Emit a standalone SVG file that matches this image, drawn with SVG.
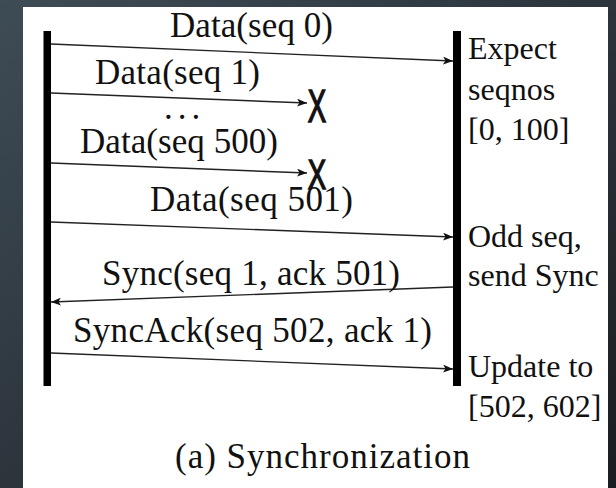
<svg xmlns="http://www.w3.org/2000/svg" width="616" height="488" viewBox="0 0 616 488">
<defs>
<linearGradient id="bg" x1="0" y1="0" x2="1" y2="1">
<stop offset="0" stop-color="#3e4c56"/>
<stop offset="1" stop-color="#1a1d22"/>
</linearGradient>
<marker id="ah" viewBox="0 0 10 8" refX="10" refY="4" markerWidth="10" markerHeight="8" markerUnits="userSpaceOnUse" orient="auto">
<path d="M0,0 L10,4 L0,8 L2.5,4 Z" fill="#111"/>
</marker>
<style>
.t{font-family:'Liberation Serif','DejaVu Serif',serif;font-size:35px;fill:#111}
.r{font-family:'Liberation Serif','DejaVu Serif',serif;font-size:32px;fill:#111}
.x{font-family:'Liberation Sans','DejaVu Sans',sans-serif;font-size:46px;fill:#111;stroke:#111;stroke-width:1.6;text-anchor:middle}
.msg{stroke:#222;stroke-width:1.4;fill:none;marker-end:url(#ah)}
.life{fill:#000}
</style>
</defs>
<rect x="0" y="0" width="616" height="488" fill="url(#bg)"/>
<rect x="23" y="7" width="585" height="481" fill="#fff"/>
<g id="sender"><rect class="life" x="43.5" y="31" width="7.5" height="355"/></g>
<g id="receiver"><rect class="life" x="453" y="31" width="8" height="355"/></g>
<g id="connectors">
<line class="msg" x1="51" y1="44" x2="453" y2="61"/>
<line class="msg" x1="51" y1="93" x2="307" y2="103"/>
<line class="msg" x1="51" y1="163" x2="307" y2="173"/>
<line class="msg" x1="51" y1="222" x2="453" y2="237"/>
<line class="msg" x1="453" y1="287" x2="51" y2="302"/>
<line class="msg" x1="51" y1="353" x2="453" y2="369"/>
</g>
<g id="labels">
<text class="t" x="170" y="37" textLength="163">Data(seq 0)</text>
<text class="t" x="95" y="84" textLength="165">Data(seq 1)</text>
<text class="t" x="164" y="119" font-size="24" letter-spacing="5">...</text>
<text class="t" x="80" y="153" textLength="198">Data(seq 500)</text>
<text class="t" x="150" y="211" textLength="203">Data(seq 501)</text>
<text class="t" x="102" y="285" textLength="298">Sync(seq 1, ack 501)</text>
<text class="t" x="73" y="342" textLength="359">SyncAck(seq 502, ack 1)</text>
</g>
<g id="drops">
<text class="x" transform="translate(317,122) scale(0.6,1)">X</text>
<text class="x" transform="translate(317,189) scale(0.6,0.93)">X</text>
</g>
<g id="notes">
<text class="r" x="468" y="59">Expect</text>
<text class="r" x="468" y="100">seqnos</text>
<text class="r" x="468" y="140">[0, 100]</text>
<text class="r" x="468" y="247">Odd seq,</text>
<text class="r" x="468" y="286">send Sync</text>
<text class="r" x="468" y="377">Update to</text>
<text class="r" x="468" y="417">[502, 602]</text>
</g>
<g id="caption"><text class="t" x="175" y="468" textLength="295">(a) Synchronization</text></g>
</svg>
